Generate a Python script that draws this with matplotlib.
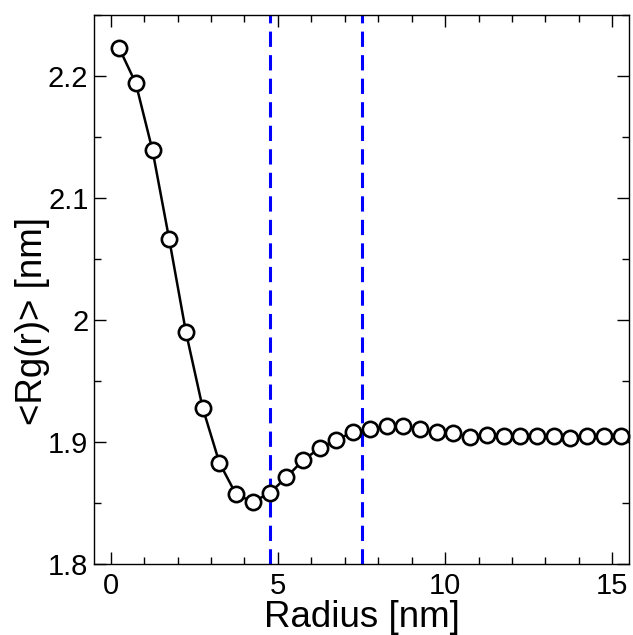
import numpy as np
import matplotlib
matplotlib.use('Agg')
from matplotlib import pyplot as plt
from matplotlib.ticker import MultipleLocator

# data
radius = [0.25, 0.75, 1.25, 1.75, 2.25, 2.75, 3.25, 3.75, 4.25, 4.75,
          5.25, 5.75, 6.25, 6.75, 7.25, 7.75, 8.25, 8.75, 9.25, 9.75,
          10.25, 10.75, 11.25, 11.75, 12.25, 12.75, 13.25, 13.75, 14.25, 14.75, 15.25]
rg = [2.223, 2.194, 2.139, 2.066, 1.990, 1.928, 1.883, 1.857, 1.851, 1.858,
      1.871, 1.885, 1.895, 1.902, 1.908, 1.911, 1.913, 1.913, 1.911, 1.908,
      1.907, 1.904, 1.906, 1.905, 1.905, 1.905, 1.905, 1.9035, 1.905, 1.905, 1.905]
vlines = [4.75, 7.5]

plt.rcParams['font.family'] = ['Liberation Sans', 'DejaVu Sans']

fig = plt.figure(figsize=(6.33, 6.35), dpi=100)
ax = fig.add_axes([0.1485, 0.1118, 0.8452, 0.8646])

for xv in vlines:
    ax.axvline(xv, color=(0, 0, 1), lw=2.2, dashes=(5, 2.7), zorder=1)

ax.plot(radius, rg, color='black', lw=1.8, marker='o', markersize=11,
        markerfacecolor='white', markeredgecolor='black', markeredgewidth=1.9,
        zorder=3, clip_on=False)

ax.set_xlim(-0.5, 15.5)
ax.set_ylim(1.8, 2.25)
ax.xaxis.set_major_locator(MultipleLocator(5))
ax.xaxis.set_minor_locator(MultipleLocator(1))
ax.yaxis.set_minor_locator(MultipleLocator(0.05))
ax.set_yticks([1.8, 1.9, 2.0, 2.1, 2.2])
ax.set_yticklabels(['1.8', '1.9', '2', '2.1', '2.2'])

ax.tick_params(which='both', direction='in', top=True, right=True, width=1.0,
               labelsize=21, colors='black')
ax.tick_params(which='major', length=8.5)
ax.tick_params(which='minor', length=5)
ax.tick_params(axis='x', pad=6)
ax.tick_params(axis='y', pad=4)
for s in ax.spines.values():
    s.set_linewidth(1.0)

ax.set_xlabel('Radius [nm]', fontsize=26.5, labelpad=0)
ax.set_ylabel('<Rg(r)> [nm]', fontsize=26.5)
ax.yaxis.set_label_coords(-0.082, 0.443)

plt.savefig('out.png', dpi=100)
